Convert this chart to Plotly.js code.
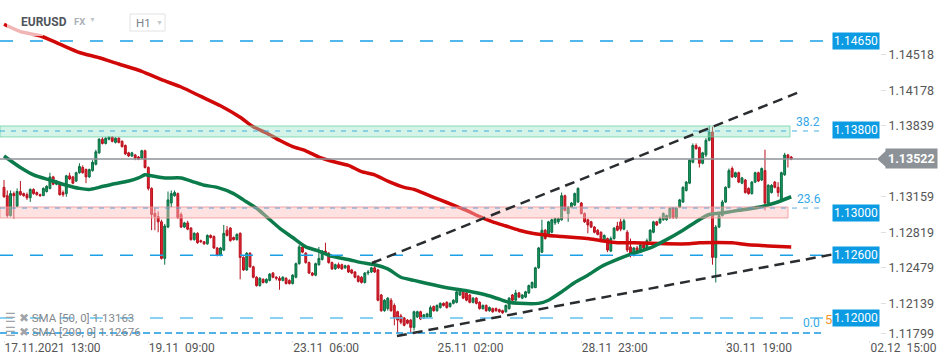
<!DOCTYPE html>
<html><head><meta charset="utf-8">
<script src="https://cdn.plot.ly/plotly-3.0.1.min.js"></script>
<style>html,body{margin:0;padding:0;background:#fff;}#chart{width:950px;height:364px;}</style>
</head><body><div id="chart"></div>
<script>
// EURUSD H1 candles (bar 0 = 17.11.2021 13:00)
const open = [
1.1325,1.1317,1.1298,1.1319,1.1307,1.1321,1.1319,1.1318,1.1315,1.1323,
1.1320,1.1318,1.1317,1.1321,1.1324,1.1335,1.1328,1.1328,1.1320,1.1319,
1.1336,1.1335,1.1331,1.1339,1.1344,1.1342,1.1335,1.1341,1.1347,1.1358,
1.1371,1.1367,1.1371,1.1373,1.1368,1.1372,1.1369,1.1365,1.1358,1.1355,
1.1356,1.1354,1.1353,1.1360,1.1344,1.1324,1.1300,1.1297,1.1292,1.1257,
1.1287,1.1310,1.1317,1.1319,1.1299,1.1287,1.1291,1.1286,1.1275,1.1281,
1.1274,1.1273,1.1271,1.1279,1.1278,1.1267,1.1260,1.1265,1.1284,1.1286,
1.1277,1.1275,1.1281,1.1258,1.1246,1.1262,1.1249,1.1239,1.1231,1.1237,
1.1234,1.1236,1.1243,1.1239,1.1238,1.1236,1.1238,1.1236,1.1233,1.1239,
1.1252,1.1268,1.1262,1.1253,1.1243,1.1241,1.1251,1.1256,1.1264,1.1262,
1.1253,1.1247,1.1251,1.1251,1.1248,1.1250,1.1246,1.1244,1.1240,1.1239,
1.1234,1.1243,1.1244,1.1248,1.1246,1.1222,1.1207,1.1209,1.1217,1.1212,
1.1206,1.1202,1.1200,1.1198,1.1198,1.1191,1.1201,1.1206,1.1200,1.1201,
1.1201,1.1211,1.1207,1.1210,1.1214,1.1215,1.1211,1.1214,1.1215,1.1222,
1.1226,1.1224,1.1222,1.1215,1.1219,1.1215,1.1209,1.1212,1.1207,1.1209,
1.1209,1.1208,1.1207,1.1206,1.1209,1.1222,1.1217,1.1224,1.1219,1.1220,
1.1224,1.1229,1.1229,1.1248,1.1263,1.1284,1.1279,1.1282,1.1291,1.1292,
1.1294,1.1317,1.1300,1.1306,1.1308,1.1311,1.1310,1.1300,1.1294,1.1292,
1.1287,1.1284,1.1282,1.1274,1.1276,1.1264,1.1276,1.1288,1.1292,1.1285,
1.1282,1.1268,1.1260,1.1267,1.1263,1.1270,1.1267,1.1274,1.1282,1.1292,
1.1291,1.1294,1.1294,1.1296,1.1305,1.1296,1.1306,1.1311,1.1322,1.1329,
1.1349,1.1365,1.1363,1.1348,1.1356,1.1370,1.1378,1.1258,1.1287,1.1298,
1.1311,1.1325,1.1343,1.1335,1.1339,1.1329,1.1332,1.1324,1.1319,1.1330,
1.1339,1.1332,1.1341,1.1310,1.1320,1.1330,1.1325,1.1313,1.1337,1.1356,
1.1354];
const high = [
1.1332,1.1322,1.1322,1.1321,1.1324,1.1331,1.1320,1.1320,1.1324,1.1324,
1.1321,1.1319,1.1325,1.1327,1.1339,1.1336,1.1332,1.1329,1.1322,1.1337,
1.1339,1.1336,1.1340,1.1348,1.1346,1.1343,1.1343,1.1351,1.1361,1.1372,
1.1373,1.1373,1.1374,1.1374,1.1373,1.1373,1.1370,1.1366,1.1359,1.1359,
1.1357,1.1355,1.1361,1.1361,1.1345,1.1325,1.1305,1.1302,1.1294,1.1290,
1.1321,1.1322,1.1322,1.1320,1.1301,1.1292,1.1293,1.1287,1.1282,1.1282,
1.1275,1.1273,1.1280,1.1280,1.1279,1.1268,1.1268,1.1289,1.1288,1.1287,
1.1278,1.1281,1.1282,1.1259,1.1263,1.1263,1.1250,1.1240,1.1239,1.1238,
1.1238,1.1243,1.1244,1.1240,1.1240,1.1240,1.1239,1.1237,1.1242,1.1253,
1.1270,1.1269,1.1263,1.1254,1.1244,1.1253,1.1268,1.1265,1.1272,1.1263,
1.1254,1.1252,1.1253,1.1252,1.1251,1.1251,1.1247,1.1245,1.1241,1.1240,
1.1244,1.1246,1.1249,1.1255,1.1247,1.1223,1.1218,1.1220,1.1219,1.1214,
1.1207,1.1204,1.1201,1.1199,1.1199,1.1207,1.1207,1.1207,1.1204,1.1205,
1.1212,1.1212,1.1213,1.1215,1.1215,1.1216,1.1215,1.1218,1.1226,1.1228,
1.1227,1.1225,1.1223,1.1220,1.1220,1.1216,1.1213,1.1213,1.1211,1.1210,
1.1210,1.1209,1.1208,1.1213,1.1220,1.1223,1.1227,1.1225,1.1223,1.1226,
1.1232,1.1235,1.1249,1.1268,1.1294,1.1285,1.1293,1.1295,1.1296,1.1296,
1.1320,1.1318,1.1307,1.1311,1.1320,1.1325,1.1311,1.1301,1.1295,1.1293,
1.1288,1.1285,1.1283,1.1280,1.1277,1.1278,1.1287,1.1292,1.1295,1.1295,
1.1284,1.1276,1.1268,1.1269,1.1271,1.1271,1.1276,1.1285,1.1293,1.1293,
1.1297,1.1301,1.1299,1.1306,1.1306,1.1306,1.1314,1.1326,1.1331,1.1352,
1.1367,1.1367,1.1364,1.1359,1.1372,1.1384,1.1383,1.1289,1.1299,1.1313,
1.1326,1.1343,1.1345,1.1340,1.1340,1.1335,1.1333,1.1325,1.1331,1.1340,
1.1340,1.1344,1.1361,1.1328,1.1328,1.1331,1.1330,1.1340,1.1358,1.1357,
1.1355];
const low = [
1.1315,1.1296,1.1297,1.1295,1.1306,1.1317,1.1316,1.1313,1.1311,1.1318,
1.1317,1.1316,1.1317,1.1320,1.1323,1.1327,1.1327,1.1317,1.1316,1.1316,
1.1332,1.1328,1.1330,1.1338,1.1338,1.1329,1.1334,1.1340,1.1346,1.1357,
1.1366,1.1366,1.1370,1.1368,1.1367,1.1367,1.1363,1.1356,1.1354,1.1354,
1.1351,1.1351,1.1352,1.1343,1.1322,1.1284,1.1284,1.1282,1.1256,1.1251,
1.1286,1.1306,1.1316,1.1295,1.1286,1.1286,1.1284,1.1274,1.1274,1.1271,
1.1272,1.1270,1.1270,1.1276,1.1266,1.1259,1.1259,1.1264,1.1278,1.1273,
1.1274,1.1274,1.1237,1.1245,1.1245,1.1248,1.1238,1.1230,1.1230,1.1233,
1.1233,1.1235,1.1238,1.1236,1.1227,1.1235,1.1232,1.1232,1.1232,1.1238,
1.1251,1.1262,1.1252,1.1242,1.1240,1.1240,1.1250,1.1255,1.1261,1.1252,
1.1246,1.1246,1.1247,1.1246,1.1247,1.1243,1.1242,1.1238,1.1234,1.1233,
1.1233,1.1241,1.1243,1.1243,1.1216,1.1206,1.1206,1.1207,1.1206,1.1193,
1.1186,1.1194,1.1192,1.1194,1.1186,1.1188,1.1200,1.1198,1.1199,1.1200,
1.1200,1.1206,1.1206,1.1209,1.1211,1.1209,1.1210,1.1213,1.1214,1.1221,
1.1218,1.1216,1.1214,1.1214,1.1213,1.1208,1.1208,1.1206,1.1206,1.1205,
1.1206,1.1205,1.1204,1.1205,1.1208,1.1216,1.1216,1.1219,1.1218,1.1219,
1.1223,1.1228,1.1229,1.1247,1.1262,1.1275,1.1278,1.1281,1.1289,1.1290,
1.1293,1.1302,1.1292,1.1305,1.1307,1.1310,1.1299,1.1291,1.1281,1.1286,
1.1281,1.1279,1.1273,1.1273,1.1263,1.1263,1.1275,1.1283,1.1283,1.1284,
1.1263,1.1258,1.1259,1.1262,1.1262,1.1266,1.1266,1.1273,1.1281,1.1288,
1.1290,1.1293,1.1293,1.1295,1.1295,1.1295,1.1305,1.1310,1.1321,1.1328,
1.1348,1.1361,1.1344,1.1347,1.1354,1.1369,1.1251,1.1234,1.1286,1.1297,
1.1310,1.1324,1.1334,1.1334,1.1329,1.1328,1.1319,1.1318,1.1318,1.1329,
1.1330,1.1331,1.1303,1.1309,1.1319,1.1324,1.1316,1.1312,1.1336,1.1344,
1.1351];
const close = [
1.1316,1.1298,1.1319,1.1317,1.1321,1.1318,1.1317,1.1315,1.1323,1.1319,
1.1318,1.1317,1.1324,1.1326,1.1335,1.1328,1.1330,1.1318,1.1318,1.1336,
1.1333,1.1329,1.1339,1.1345,1.1339,1.1335,1.1342,1.1349,1.1359,1.1371,
1.1367,1.1372,1.1373,1.1369,1.1372,1.1368,1.1364,1.1357,1.1355,1.1358,
1.1353,1.1352,1.1360,1.1344,1.1324,1.1299,1.1297,1.1292,1.1257,1.1288,
1.1313,1.1319,1.1320,1.1296,1.1287,1.1291,1.1285,1.1275,1.1281,1.1272,
1.1273,1.1271,1.1279,1.1277,1.1267,1.1260,1.1267,1.1281,1.1279,1.1274,
1.1275,1.1280,1.1258,1.1246,1.1262,1.1249,1.1239,1.1231,1.1238,1.1234,
1.1237,1.1242,1.1239,1.1238,1.1236,1.1239,1.1233,1.1233,1.1241,1.1252,
1.1268,1.1263,1.1253,1.1243,1.1241,1.1252,1.1257,1.1264,1.1262,1.1253,
1.1247,1.1251,1.1248,1.1247,1.1250,1.1244,1.1243,1.1239,1.1235,1.1234,
1.1243,1.1244,1.1248,1.1244,1.1217,1.1207,1.1217,1.1219,1.1207,1.1200,
1.1198,1.1196,1.1193,1.1195,1.1191,1.1206,1.1206,1.1199,1.1203,1.1204,
1.1210,1.1207,1.1212,1.1214,1.1212,1.1210,1.1214,1.1217,1.1225,1.1227,
1.1219,1.1217,1.1215,1.1219,1.1214,1.1209,1.1212,1.1207,1.1210,1.1206,
1.1207,1.1206,1.1205,1.1212,1.1219,1.1217,1.1224,1.1220,1.1222,1.1225,
1.1231,1.1234,1.1248,1.1267,1.1284,1.1276,1.1292,1.1294,1.1295,1.1295,
1.1317,1.1303,1.1306,1.1310,1.1319,1.1324,1.1300,1.1292,1.1289,1.1287,
1.1282,1.1280,1.1274,1.1279,1.1265,1.1276,1.1286,1.1284,1.1285,1.1293,
1.1265,1.1262,1.1267,1.1263,1.1270,1.1267,1.1274,1.1284,1.1292,1.1289,
1.1295,1.1300,1.1298,1.1305,1.1296,1.1305,1.1313,1.1325,1.1330,1.1351,
1.1365,1.1362,1.1348,1.1358,1.1370,1.1378,1.1258,1.1287,1.1298,1.1311,
1.1325,1.1341,1.1335,1.1339,1.1330,1.1334,1.1320,1.1319,1.1330,1.1339,
1.1331,1.1343,1.1310,1.1327,1.1327,1.1325,1.1320,1.1339,1.1356,1.1353,
1.1352];
const bars = open.map((_, i) => i);

// Moving averages at sample bars
const sma50Bars = [0,5,9,14,19,23,26,29,33,38,41,43,45,49,54,58,61,65,70,73,77,80,84,88,92,96,100,105,109,113,117,121,125,129,135,141,147,151,154,157,163,166,170,174,178,182,187,192,197,202,207,212,215,220,224,230,235,240];
const sma50 = [1.1355,1.1344,1.1337,1.1332,1.1327,1.1324,1.1323,1.1325,1.1328,1.1331,1.1334,1.1337,1.1336,1.1334,1.1334,1.1330,1.1327,1.1325,1.1319,1.1313,1.1305,1.1297,1.1286,1.1277,1.1268,1.1264,1.1259,1.1256,1.1253,1.1251,1.1247,1.1239,1.1236,1.1233,1.1229,1.1226,1.1222,1.1218,1.1215,1.1214,1.1214,1.1217,1.1225,1.1234,1.1241,1.1249,1.1256,1.1262,1.1267,1.1275,1.1284,1.1294,1.1299,1.1301,1.1303,1.1306,1.1310,1.1316];
const sma200Bars = [0,5,11,17,23,29,35,42,48,54,60,66,72,76,80,84,88,92,96,100,105,109,113,117,122,125,129,133,137,141,145,149,153,157,161,166,170,174,178,182,187,192,202,209,212,222,227,233,240];
const sma200 = [1.1481,1.1474,1.1470,1.1462,1.1454,1.1449,1.1443,1.1436,1.1428,1.1421,1.1412,1.1403,1.1392,1.1383,1.1377,1.1370,1.1364,1.1360,1.1354,1.1350,1.1346,1.1340,1.1337,1.1331,1.1325,1.1323,1.1318,1.1313,1.1308,1.1303,1.1297,1.1292,1.1288,1.1284,1.1281,1.1279,1.1278,1.1277,1.1276,1.1274,1.1272,1.1272,1.1271,1.1271,1.1272,1.1272,1.1270,1.1269,1.1268];

// Axis ticks
const xTickBars = [0,44,88,132,176,220,264];
const xTickText = ['17.11.2021\u00a0\u00a013:00','19.11\u00a0\u00a009:00','23.11\u00a0\u00a006:00','25.11\u00a0\u00a002:00','28.11\u00a0\u00a023:00','30.11\u00a0\u00a019:00','02.12\u00a0\u00a015:00'];
const yTickText = ['1.14518','1.14178','1.13839','1.13159','1.12819','1.12479','1.12139','1.11799'];
// the lowest label is lifted off the bottom edge, as in the source chart
const yTickVals = [1.14518,1.14178,1.13839,1.13159,1.12819,1.12479,1.12139,1.11855];

// Levels / drawings
const levelPrices = [1.1465,1.1380,1.1300,1.1260,1.1200];
const levelText = ['1.14650','1.13800','1.13000','1.12600','1.12000'];
const fibNames = ['0.0','23.6','38.2'];
const fibPrices = [1.11857,1.13052,1.13789];
const greenZone = [1.13732,1.13837];
const pinkZone = [1.12957,1.13062];
const lastPrice = 1.13522;
const upperTrendBars = [112.2,241.8], upperTrendPrices = [1.12526,1.14153];
const lowerTrendBars = [119.8,254.9], lowerTrendPrices = [1.11828,1.12622];
const smaLegend = ['SMA [50, 0] 1.13163','SMA [200, 0] 1.12676'];

const PW = 880, PH = 340;
const PX = x => x / PW, PY = y => (PH - y) / PH;

const traces = [
  {type:'candlestick', x:bars, open:open, high:high, low:low, close:close,
   increasing:{line:{color:'#0b6e44',width:1}, fillcolor:'#16985d'},
   decreasing:{line:{color:'#b8121f',width:1}, fillcolor:'#e3212f'},
   whiskerwidth:0, hoverinfo:'skip'},
  {type:'scatter', mode:'lines', x:sma200Bars, y:sma200, line:{color:'#d10808',width:3.5,shape:'spline',smoothing:0.6}, hoverinfo:'skip'},
  {type:'scatter', mode:'lines', x:sma50Bars, y:sma50, line:{color:'#0b7b4b',width:3.5,shape:'spline',smoothing:0.6}, hoverinfo:'skip'}
];

const hline = (y, x1, color, dash, width) => ({type:'line', xref:'paper', yref:'y', x0:0, x1:x1, y0:y, y1:y, layer:'above', line:{color:color, dash:dash, width:width}});

const shapes = [
  {type:'rect', xref:'paper', yref:'y', x0:0, x1:PX(790), y0:greenZone[0], y1:greenZone[1], layer:'above', fillcolor:'rgba(150,228,196,0.42)', line:{color:'rgba(95,205,160,0.7)', width:1}},
  {type:'rect', xref:'paper', yref:'y', x0:0, x1:PX(788), y0:pinkZone[0], y1:pinkZone[1], layer:'above', fillcolor:'rgba(252,190,190,0.45)', line:{color:'rgba(240,140,140,0.75)', width:1}},
  hline(levelPrices[0], PX(828), '#1aa0e6', '13px,17px', 1.5),
  hline(fibPrices[2], PX(822), 'rgba(40,160,225,0.85)', '5px,6px', 1),
  hline(fibPrices[1], PX(822), 'rgba(60,150,215,0.8)', '5px,6px', 1),
  hline(levelPrices[3], PX(833), '#1aa0e6', '13px,17px', 1.5),
  hline(levelPrices[4], PX(833), '#62c2f0', '13px,17px', 1.5),
  hline(fibPrices[0], PX(822), '#1898e0', '7px,4px', 1.5),
  {type:'line', xref:'paper', yref:'y', x0:0, x1:PX(877), y0:lastPrice, y1:lastPrice, layer:'above', line:{color:'#8e9398', width:1.5}},
  {type:'line', xref:'x', yref:'y', x0:upperTrendBars[0], x1:upperTrendBars[1], y0:upperTrendPrices[0], y1:upperTrendPrices[1], layer:'above', line:{color:'#2a2d30', dash:'10px,6px', width:2.5}},
  {type:'line', xref:'x', yref:'y', x0:lowerTrendBars[0], x1:lowerTrendBars[1], y0:lowerTrendPrices[0], y1:lowerTrendPrices[1], layer:'above', line:{color:'#2a2d30', dash:'10px,6px', width:2.5}},
  {type:'rect', xref:'paper', yref:'paper', x0:PX(7), x1:PX(43), y0:PY(36), y1:PY(21), layer:'above', fillcolor:'rgba(255,255,255,0.7)', line:{width:0}},
  {type:'rect', xref:'paper', yref:'paper', x0:PX(130), x1:PX(165), y0:PY(31), y1:PY(14), layer:'above', fillcolor:'#fff', line:{color:'#e2e2e2', width:1}},
  {type:'path', xref:'paper', yref:'y', layer:'above', path:`M ${PX(877)},${lastPrice} L ${PX(886)},${lastPrice+0.00078} L ${PX(886)},${lastPrice-0.00078} Z`, fillcolor:'#8c9297', line:{width:0}}
];

const ann = [];
const txt = (x, y, text, opts) => Object.assign({xref:'paper', yref:'paper', x:PX(x), y:PY(y), text:text, showarrow:false, xanchor:'left', yanchor:'middle'}, opts);
ann.push(txt(19, 22, '<b>EURUSD</b>', {font:{size:12, color:'#50555a'}}));
ann.push(txt(72, 22, '<b>FX</b>', {font:{size:9.5, color:'#a9b0b6'}}));
ann.push(txt(87, 20, '▼', {font:{size:7, color:'#c3c7cb'}}));
ann.push(txt(134, 23, 'H1', {font:{size:11.5, color:'#7c8288'}}));
ann.push(txt(154, 23, '▼', {font:{size:7, color:'#c3c7cb'}}));
ann.push(txt(3, 318, '<span style="color:#a0a4a8">☰ ✖</span> ' + smaLegend[0], {font:{size:11.5, color:'#85898d'}}));
ann.push(txt(3, 332, '<span style="color:#a0a4a8">☰ ✖</span> ' + smaLegend[1], {font:{size:11.5, color:'#85898d'}}));
// fibonacci labels
ann.push({xref:'paper', yref:'y', x:PX(794), y:fibPrices[2]+0.00086, text:fibNames[2], showarrow:false, xanchor:'left', font:{size:12, color:'#34a8e6'}});
ann.push({xref:'paper', yref:'y', x:PX(795), y:fibPrices[1]+0.00086, text:fibNames[1], showarrow:false, xanchor:'left', font:{size:12, color:'#34a8e6'}});
ann.push({xref:'paper', yref:'y', x:PX(801), y:fibPrices[0]+0.00092, text:fibNames[0], showarrow:false, xanchor:'left', font:{size:12, color:'#34a8e6'}});
ann.push({xref:'paper', yref:'y', x:PX(823), y:levelPrices[4]-0.0001, text:'5', showarrow:false, xanchor:'left', font:{size:13, color:'#f0962a'}});
// price level tags
levelPrices.forEach((p, i) => ann.push({xref:'paper', yref:'y', x:1, y:p, text:levelText[i], showarrow:false, xanchor:'right', yanchor:'middle', bgcolor:'#0a9be3', borderpad:1, font:{size:12, color:'#ffffff'}}));
ann.push({xref:'paper', yref:'y', x:PX(885), y:lastPrice, text:'<b>1.13522</b>', showarrow:false, xanchor:'left', yanchor:'middle', bgcolor:'#8c9297', borderpad:2, font:{size:12.5, color:'#ffffff'}});

const layout = {
  width:950, height:364,
  margin:{l:0, r:70, t:0, b:24},
  paper_bgcolor:'#ffffff', plot_bgcolor:'#ffffff',
  showlegend:false, boxgap:0.18,
  font:{family:'Roboto, "Open Sans", sans-serif', color:'#555'},
  xaxis:{range:[-1.22, 267.07], tickmode:'array', tickvals:xTickBars, ticktext:xTickText,
    ticklabelposition:'outside right', ticks:'outside', ticklen:2, tickcolor:'#e0e0e0',
    ticklabelstandoff:-3,
    showgrid:false, zeroline:false, showline:false, rangeslider:{visible:false},
    tickfont:{size:12, color:'#555'}},
  yaxis:{side:'right', range:[1.117896, 1.150422], tickmode:'array', tickvals:yTickVals,
    ticktext:yTickText, ticks:'outside', ticklen:5, tickcolor:'#e0e0e0',
    showgrid:false, zeroline:false, showline:false, tickfont:{size:12.5, color:'#555'}},
  shapes:shapes, annotations:ann
};

Plotly.newPlot('chart', traces, layout, {staticPlot:true, displayModeBar:false});
</script></body></html>
